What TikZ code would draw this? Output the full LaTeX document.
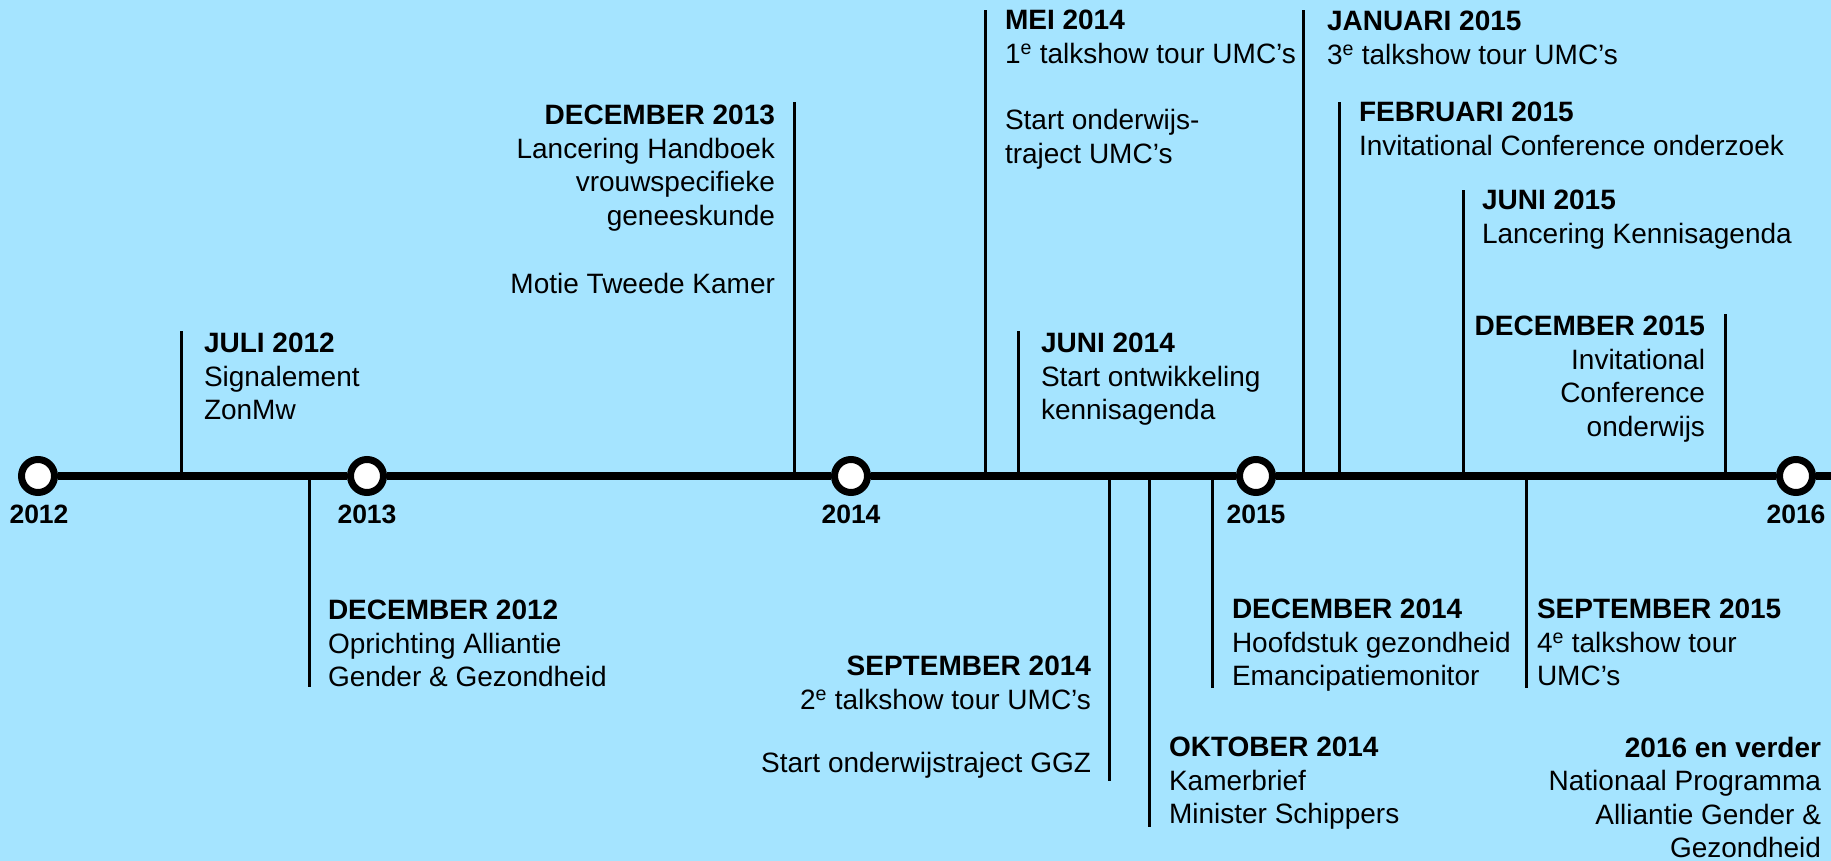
\documentclass[tikz,border=0pt]{standalone}
\usepackage{fontspec}
\setmainfont{Liberation Sans}
\definecolor{bgblue}{RGB}{165,228,255}
\begin{document}
\begin{tikzpicture}[x=1pt,y=-1pt,
  evtext/.style={inner sep=0pt, outer sep=0pt, font=\fontsize{28}{33.5}\selectfont},
  evleft/.style={evtext, anchor=north west, align=left},
  evright/.style={evtext, anchor=north east, align=right},
  yearlbl/.style={font=\fontsize{26.5}{30}\selectfont\bfseries, anchor=base, inner sep=0pt},
  yearring/.style={circle, draw=black, fill=white, line width=7pt, minimum size=33pt, inner sep=0pt},
  tickline/.style={line width=3pt},
  axisline/.style={line width=8pt}]
\fill[bgblue] (0,0) rectangle (1831,861);
\useasboundingbox (0,0) rectangle (1831,861);

% year circles
\node[yearring] (y2012) at (38,476) {};
\node[yearring] (y2013) at (367,476) {};
\node[yearring] (y2014) at (851,476) {};
\node[yearring] (y2015) at (1256,476) {};
\node[yearring] (y2016) at (1796,476) {};
\coordinate (tlend) at (1831,476);

% axis
\draw[axisline] (y2012) -- (y2013) -- (y2014) -- (y2015) -- (y2016) -- (tlend);

% year labels
\node[yearlbl] (l2012) at (39,523) {2012};
\node[yearlbl] (l2013) at (367,523) {2013};
\node[yearlbl] (l2014) at (851,523) {2014};
\node[yearlbl] (l2015) at (1256,523) {2015};
\node[yearlbl] (l2016) at (1796,523) {2016};

% tick coordinates
\foreach \n/\x/\y in {a/181/331, b/794/102, c/985/10, d/1018/331, e/1303/10, f/1339/102, g/1463/190, h/1725/314,
                      i/309/687, j/1109/781, k/1149/827, l/1212/688, m/1526/688}{
  \coordinate (t\n) at (\x,476);
  \coordinate (e\n) at (\x,\y);
}
\foreach \n in {a,b,c,d,e,f,g,h,i,j,k,l,m}{
  \draw[tickline] (t\n) -- (e\n);
}

% top events
\node[evleft] (juli12) at (204,333) {\textbf{JULI 2012}\\Signalement\\ZonMw};
\node[evright] (dec13) at (775,105) {\textbf{DECEMBER 2013}\\Lancering Handboek\\vrouwspecifieke\\geneeskunde\\[35pt]Motie Tweede Kamer};
\node[evleft] (mei14) at (1005,10) {\textbf{MEI 2014}\\1\textsuperscript{e} talkshow tour UMC’s\\[33pt]Start onderwijs-\\traject UMC’s};
\node[evleft] (juni14) at (1041,333) {\textbf{JUNI 2014}\\Start ontwikkeling\\kennisagenda};
\node[evleft] (jan15) at (1327,11) {\textbf{JANUARI 2015}\\3\textsuperscript{e} talkshow tour UMC’s};
\node[evleft] (feb15) at (1359,102) {\textbf{FEBRUARI 2015}\\Invitational Conference onderzoek};
\node[evleft] (juni15) at (1482,190) {\textbf{JUNI 2015}\\Lancering Kennisagenda};
\node[evright] (dec15) at (1705,316) {\textbf{DECEMBER 2015}\\Invitational\\Conference\\onderwijs};

% bottom events
\node[evleft] (dec12) at (328,600) {\textbf{DECEMBER 2012}\\Oprichting Alliantie\\Gender \& Gezondheid};
\node[evright] (sep14) at (1091,656) {\textbf{SEPTEMBER 2014}\\2\textsuperscript{e} talkshow tour UMC’s\\[30pt]Start onderwijstraject GGZ};
\node[evleft] (okt14) at (1169,737) {\textbf{OKTOBER 2014}\\Kamerbrief\\Minister Schippers};
\node[evleft] (dec14) at (1232,599) {\textbf{DECEMBER 2014}\\Hoofdstuk gezondheid\\Emancipatiemonitor};
\node[evleft] (sep15) at (1537,599) {\textbf{SEPTEMBER 2015}\\4\textsuperscript{e} talkshow tour\\UMC’s};
\node[evright] (verder) at (1821,737) {\textbf{2016 en verder}\\Nationaal Programma\\Alliantie Gender \&\\Gezondheid};
\end{tikzpicture}
\end{document}
